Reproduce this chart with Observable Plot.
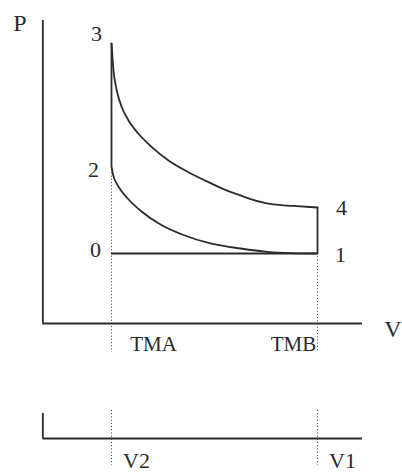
<!DOCTYPE html>
<html>
<head>
<meta charset="utf-8">
<script src="https://cdn.jsdelivr.net/npm/d3@7"></script>
<script src="https://cdn.jsdelivr.net/npm/@observablehq/plot@0.6"></script>
<style>
  html, body { margin: 0; padding: 0; background: #fff; }
  #chart { width: 402px; height: 473px; overflow: hidden; }
</style>
</head>
<body>
<div id="chart"></div>
<script>
// ---- data (V in units of V2, P in units of P1) ----
const V2 = 1, V1 = 4;
const vAxisEnd = 4.655;        // end of V axis
const pAxisTop = 4.33;         // top of P axis
const pLowerAxis = -1.643;     // level of the lower (volume) axis

// expansion curve 3 -> 4
const upperV = [1.000, 1.029, 1.077, 1.150, 1.248, 1.393, 1.587, 1.830, 2.121, 2.412, 2.703, 2.878, 3.170, 3.359, 3.650, 4.000];
const upperP = [4.000, 3.614, 3.329, 3.090, 2.900, 2.710, 2.519, 2.329, 2.161, 2.019, 1.890, 1.829, 1.736, 1.700, 1.679, 1.657];
// compression curve 1 -> 2
const lowerV = [1.000, 1.022, 1.083, 1.150, 1.229, 1.437, 1.714, 2.048, 2.442, 2.879, 3.267, 3.607, 4.000];
const lowerP = [2.243, 2.129, 1.986, 1.886, 1.793, 1.600, 1.414, 1.264, 1.143, 1.071, 1.024, 1.006, 1.000];

// state points
const stateLabels = ["3", "2", "0", "4", "1"];
const stateV = [V2, V2, V2, V1, V1];
const stateP = [4.000, 2.243, 1.000, 1.657, 1.000];

// axis / position labels
const deadCenterLabels = ["TMA", "TMB"];
const deadCenterV = [V2, V1];
const volumeLabels = ["V2", "V1"];
const volumeV = [V2, V1];

const upper = upperV.map((v, i) => ({v, p: upperP[i]}));
const lower = lowerV.map((v, i) => ({v, p: lowerP[i]}));
const states = stateLabels.map((label, i) => ({label, v: stateV[i], p: stateP[i]}));

const ink = "#2b2b2b";
const sw = 1.8;
const dotted = {stroke: "#555", strokeWidth: 1, strokeDasharray: "1.2,2"};
const stateOffsets = {"3": [-15, -10], "2": [-18, 3], "0": [-16, -4], "4": [24, 0], "1": [23, 1]};

const chart = Plot.plot({
  width: 402,
  height: 473,
  margin: 0,
  x: {domain: [-0.6164, 5.2376], axis: null},
  y: {domain: [-2.143, 4.614], axis: null},
  style: {background: "#fff", fontFamily: "'Liberation Serif', 'Times New Roman', serif"},
  marks: [
    // dotted guide lines at V2 and V1 (main diagram)
    Plot.ruleX([V2], {y1: stateP[1], y2: -0.414, ...dotted}),
    Plot.ruleX([V1], {y1: stateP[4], y2: -0.414, ...dotted}),
    // dotted guide lines at V2 and V1 (lower axis)
    Plot.ruleX(volumeV, {y1: -1.243, y2: -2.029, ...dotted}),

    // main axes
    Plot.ruleX([0], {y1: 0, y2: pAxisTop, stroke: ink, strokeWidth: sw}),
    Plot.ruleY([0], {x1: 0, x2: vAxisEnd, stroke: ink, strokeWidth: sw}),
    // lower axis
    Plot.ruleY([pLowerAxis], {x1: 0, x2: vAxisEnd, stroke: ink, strokeWidth: sw}),
    Plot.ruleX([0], {y1: pLowerAxis, y2: -1.286, stroke: ink, strokeWidth: sw}),

    // cycle: 3 -> 2 (isochoric), 4 -> 1 (isochoric), 0 -> 1 (isobaric)
    Plot.ruleX([V2], {y1: stateP[1], y2: stateP[0], stroke: ink, strokeWidth: sw}),
    Plot.ruleX([V1], {y1: stateP[4], y2: stateP[3], stroke: ink, strokeWidth: sw}),
    Plot.ruleY([stateP[2]], {x1: V2, x2: V1, stroke: ink, strokeWidth: sw}),
    Plot.line(upper, {x: "v", y: "p", curve: "monotone-x", stroke: ink, strokeWidth: sw}),
    Plot.line(lower, {x: "v", y: "p", curve: "monotone-x", stroke: ink, strokeWidth: sw}),

    // state point labels
    ...states.map(s => Plot.text([s], {x: "v", y: "p", text: "label",
      dx: stateOffsets[s.label][0], dy: stateOffsets[s.label][1], fontSize: 22, fill: ink})),

    // axis titles
    Plot.text(["P"], {x: 0, y: pAxisTop, text: d => d, dx: -23, dy: 3, fontSize: 24, fill: ink}),
    Plot.text(["V"], {x: vAxisEnd, y: 0, text: d => d, dx: 39, dy: 6, textAnchor: "end", fontSize: 24, fill: ink}),

    // TMA / TMB
    Plot.text([deadCenterLabels[0]], {x: deadCenterV[0], y: 0, text: d => d, dx: 42, dy: 21,
      fontSize: 21, fill: ink, letterSpacing: "-1px"}),
    Plot.text([deadCenterLabels[1]], {x: deadCenterV[1], y: 0, text: d => d, dx: -24, dy: 21,
      fontSize: 21, fill: ink, letterSpacing: "-1px"}),

    // V2 / V1
    Plot.text(volumeLabels, {x: (d, i) => volumeV[i], y: pLowerAxis, text: d => d, dx: 25, dy: 22,
      fontSize: 22, fill: ink})
  ]
});
document.getElementById("chart").appendChild(chart);
</script>
</body>
</html>
